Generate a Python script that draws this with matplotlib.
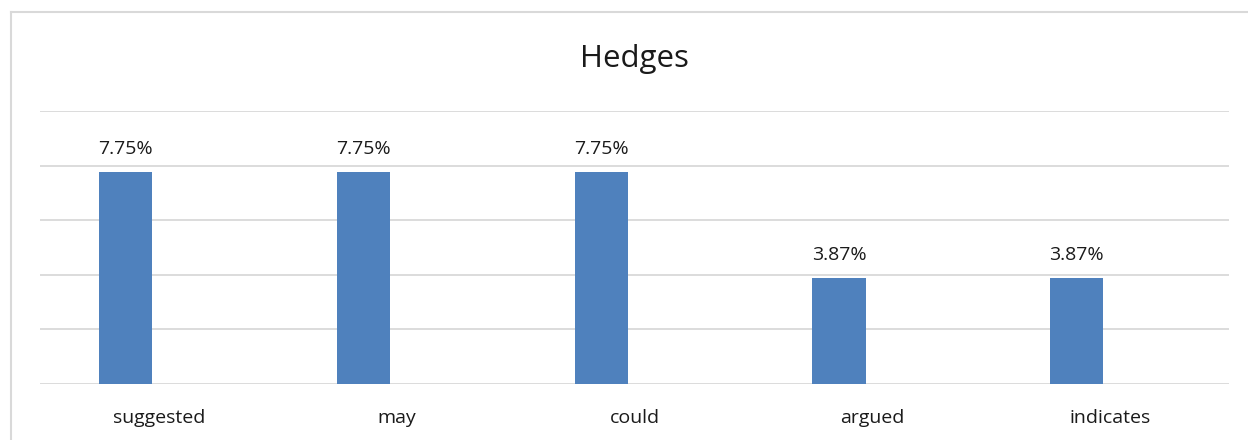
import matplotlib

matplotlib.use("Agg")
import matplotlib.pyplot as plt
from matplotlib.lines import Line2D
from matplotlib.transforms import blended_transform_factory

# Hedge usage shares (percent of all hedges)
categories = ["suggested", "may", "could", "argued", "indicates"]
shares = [7.75, 7.75, 7.75, 3.87, 3.87]
value_labels = ["7.75%", "7.75%", "7.75%", "3.87%", "3.87%"]
grid_ticks = [0, 2, 4, 6, 8, 10]

BAR_COLOR = "#4f81bd"
GRID_COLOR = "#d9d9d9"
TEXT_COLOR = "#1a1a1a"
FONT = ["Open Sans", "DejaVu Sans"]

W, H, DPI = 1248, 440, 100
BAR_WIDTH = 0.223
BAR_SHIFT = -0.14  # bars sit left of the category centre (first slot of a cluster)

fig = plt.figure(figsize=(W / DPI, H / DPI), dpi=DPI)
fig.patch.set_facecolor("white")

# outer chart frame (only top and left edges fall inside the canvas)
fig.add_artist(Line2D([11 / W, 11 / W], [0, 1 - 12 / H], color=GRID_COLOR, lw=1.5))
fig.add_artist(Line2D([11 / W, 1], [1 - 12 / H, 1 - 12 / H], color=GRID_COLOR, lw=1.5))

left, right, top, bottom = 40, 1229, 111, 384
ax = fig.add_axes([left / W, 1 - bottom / H, (right - left) / W, (bottom - top) / H])

x = list(range(len(categories)))
bar_x = [xi + BAR_SHIFT for xi in x]
ax.bar(bar_x, shares, width=BAR_WIDTH, color=BAR_COLOR, zorder=3)

ax.set_xlim(-0.5, len(categories) - 0.5)
ax.set_ylim(0, 10)
ax.set_yticks(grid_ticks)
ax.yaxis.grid(True, color=GRID_COLOR, lw=1.3, zorder=0)
ax.tick_params(axis="y", length=0, labelleft=False)
ax.tick_params(axis="x", length=0, labelbottom=False)
for side in ("top", "right", "left", "bottom"):
    ax.spines[side].set_visible(False)

for bx, val, lab in zip(bar_x, shares, value_labels):
    ax.annotate(lab, (bx, val), xytext=(0, 13.5), textcoords="offset points",
                ha="center", va="baseline", fontsize=14, family=FONT, color=TEXT_COLOR)

trans = blended_transform_factory(ax.transData, fig.transFigure)
for xi, cat in zip(x, categories):
    ax.text(xi, 1 - 423 / H, cat, transform=trans, ha="center", va="baseline",
            fontsize=14, family=FONT, color=TEXT_COLOR)

fig.text((left + right) / 2 / W, 1 - 67 / H, "Hedges", ha="center", va="baseline",
         fontsize=22.5, family=FONT, color=TEXT_COLOR)

fig.savefig("out.png", dpi=DPI, facecolor="white")
